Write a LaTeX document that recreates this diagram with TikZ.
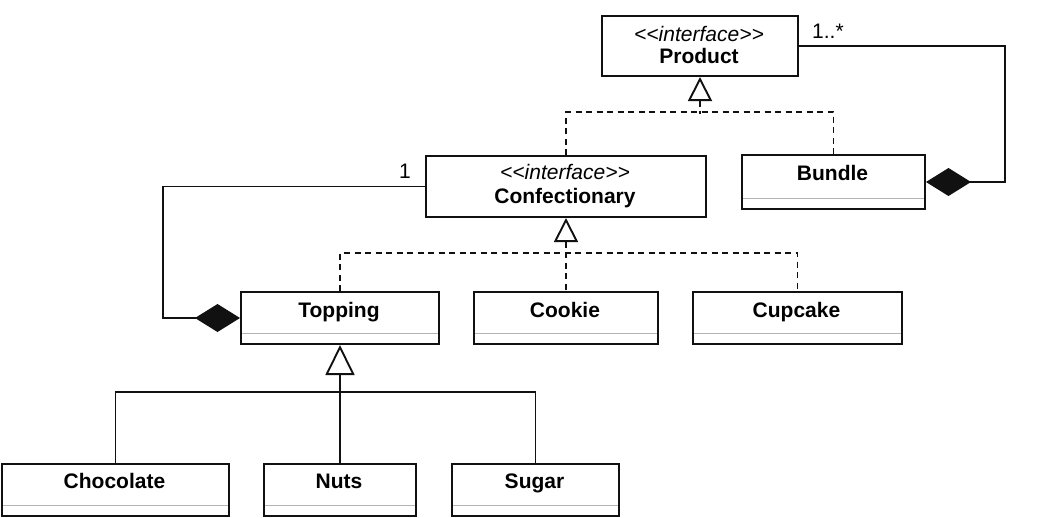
\documentclass[tikz,border=0pt]{standalone}
\usepackage{fontspec}
\setmainfont{Liberation Sans}
\usetikzlibrary{arrows.meta,calc}
\definecolor{sepgray}{HTML}{B4B4B4}
\definecolor{ink}{HTML}{111111}
\newcommand{\stereotext}{<\kern0pt<interface>\kern0pt>}
\begin{document}
\begin{tikzpicture}[x=1pt,y=-1pt,
  box/.style={draw=ink, line width=2pt, inner sep=0pt, anchor=north west},
  classbox/.style={box, path picture={\draw[sepgray, line width=1.6pt]
      ([yshift=10.5pt]path picture bounding box.south west) --
      ([yshift=10.5pt]path picture bounding box.south east);}},
  nametxt/.style={anchor=base, inner sep=0pt, font=\fontsize{21}{24}\selectfont\bfseries},
  stereo/.style={anchor=base, inner sep=0pt, font=\fontsize{21}{24}\selectfont\itshape},
  multtxt/.style={anchor=base west, inner sep=0pt, font=\fontsize{21}{24}\selectfont},
  conn/.style={draw=ink, line width=1.9pt},
  dashedconn/.style={conn, dash pattern=on 6pt off 4.5pt},
  realize/.style={{Triangle[open, fill=white, length=24pt, width=24pt]}-},
  inherit/.style={{Triangle[open, fill=white, length=30pt, width=29pt]}-},
  compose/.style={-{Diamond[length=45pt, width=28pt]}}
]
\useasboundingbox (0,0) rectangle (1050,517);

% interface boxes
\node[box, minimum width=196pt, minimum height=60pt] (product) at (601,15) {};
\node[stereo] (product-s) at (699,41) {\stereotext};
\node[nametxt] (product-n) at (699,63) {Product};

\node[box, minimum width=280pt, minimum height=61pt] (conf) at (425,155) {};
\node[stereo] (conf-s) at (565,179) {\stereotext};
\node[nametxt] (conf-n) at (565,203) {Confectionary};

% class boxes
\node[classbox, minimum width=183pt, minimum height=54pt] (bundle) at (741,154) {};
\node[nametxt] (bundle-n) at (832.5,180) {Bundle};

\node[classbox, minimum width=198pt, minimum height=52pt] (topping) at (240,291) {};
\node[nametxt] (topping-n) at (339,317) {Topping};

\node[classbox, minimum width=184pt, minimum height=52pt] (cookie) at (473,291) {};
\node[nametxt] (cookie-n) at (565,317) {Cookie};

\node[classbox, minimum width=209pt, minimum height=52pt] (cupcake) at (692,291) {};
\node[nametxt] (cupcake-n) at (796.5,317) {Cupcake};

\node[classbox, minimum width=227pt, minimum height=52pt] (choc) at (1,463) {};
\node[nametxt] (choc-n) at (114.5,488) {Chocolate};

\node[classbox, minimum width=152pt, minimum height=52pt] (nuts) at (263,463) {};
\node[nametxt] (nuts-n) at (339,488) {Nuts};

\node[classbox, minimum width=167pt, minimum height=52pt] (sugar) at (451,463) {};
\node[nametxt] (sugar-n) at (534.5,488) {Sugar};

% realizations of Product
\draw[dashedconn] (conf.north) -- ++(0,-43) -| (bundle.north);
\draw[dashedconn, realize] (product.south) -- ++(0,37);

% realizations of Confectionary
\draw[dashedconn] (topping.north) -- ++(0,-38) -| (cupcake.north);
\draw[dashedconn, realize] (conf.south) -- (cookie.north);

% generalization of Topping
\draw[conn] (choc.north) -- ++(0,-71) -| (sugar.north);
\draw[conn, inherit] (topping.south) -- (nuts.north);

% compositions
\draw[conn, compose] (product.east) -- ++(206,0) |- (bundle.east);
\node[multtxt] (mult-many) at (812,38) {1..*};

\draw[conn, compose] (conf.west) -- ++(-262,0) |- (topping.west);
\node[multtxt] (mult-one) at (399,178) {1};
\end{tikzpicture}
\end{document}
